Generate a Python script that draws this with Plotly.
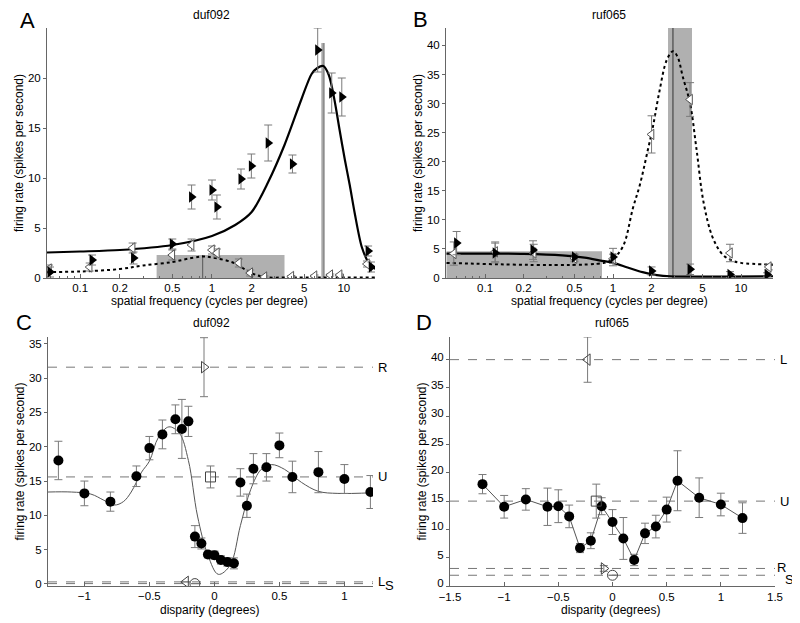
import plotly.graph_objects as go

# The page body keeps its default 8 px margin, so the figure is drawn 8 px
# in from the top-left; size it to fill the rest of the 800x623 window.
PAGE_W, PAGE_H, OFF = 800, 623, 8
W, H = PAGE_W - OFF, PAGE_H - OFF
FONT = "Liberation Sans, Arial, sans-serif"

# ---- panel A: duf092, spatial frequency tuning ----
A_SF_R = [0.059, 0.123, 0.254, 0.50, 0.70, 1.00, 1.09, 1.66, 1.99, 2.67, 4.08, 6.34, 8.1, 9.66, 15.3, 16.2]
A_RATE_R = [0.6, 1.8, 2.0, 3.4, 8.1, 8.8, 7.1, 9.9, 11.2, 13.5, 11.4, 22.8, 18.5, 18.1, 2.7, 1.1]
A_ERR_R = [0.5, 0.5, 0.6, 0.5, 1.2, 1.0, 1.2, 1.0, 1.2, 1.8, 0.9, 2.2, 2.0, 1.9, 0.5, 0.5]
A_SF_L = [0.058, 0.118, 0.25, 0.50, 0.70, 1.00, 1.09, 1.6, 1.95, 2.5, 4.0, 6.0, 7.9, 9.3, 15.0]
A_RATE_L = [0.9, 1.1, 3.0, 2.3, 3.3, 2.8, 2.5, 1.5, 0.5, 0.1, 0.15, 0.2, 0.3, 0.3, 1.4]
A_ERR_L = [0.4, 0.4, 0.5, 0.5, 0.6, 0.4, 0.4, 0.4, 0.3, 0.1, 0.1, 0.1, 0.1, 0.1, 0.3]
A_FIT_R_X = [0.056, 0.1, 0.2, 0.5, 1.0, 1.5, 2.0, 2.67, 3.55, 4.78, 5.7, 6.3, 7.0, 7.7, 8.5, 9.3, 10.2, 11.1, 12.1, 13.7, 15.5, 17.3]
A_FIT_R_Y = [2.55, 2.65, 2.8, 3.3, 4.2, 5.3, 6.6, 9.6, 13.3, 17.9, 20.4, 21.0, 21.2, 20.3, 17.8, 14.8, 11.8, 9.3, 6.5, 3.1, 1.5, 0.9]
A_FIT_L_X = [0.056, 0.1, 0.2, 0.3, 0.5, 0.7, 0.85, 1.0, 1.47, 1.98, 2.5, 4.0, 17.3]
A_FIT_L_Y = [0.6, 0.65, 0.9, 1.25, 1.6, 2.0, 2.15, 2.05, 1.5, 0.5, 0.1, 0.05, 0.05]
A_BAND = [0.38, 3.55, 2.3, 0.85]      # lo, hi, height, centre
A_PEAK = [6.75, 7.2, 23.5, 7.0]

# ---- panel B: ruf065, spatial frequency tuning ----
B_SF_R = [0.060, 0.12, 0.237, 0.5, 1.0, 2.0, 4.0, 8.2, 16.0]
B_RATE_R = [6.0, 4.3, 4.8, 3.6, 3.6, 1.2, 1.5, 0.6, 0.6]
B_ERR_R = [2.0, 1.7, 1.6, 0.5, 1.5, 0.7, 0.9, 0.5, 0.3]
B_SF_L = [0.057, 0.12, 0.24, 0.5, 1.0, 2.0, 4.0, 8.2, 16.5]
B_RATE_L = [4.2, 4.5, 4.3, 3.4, 3.3, 24.7, 30.7, 4.3, 1.9]
B_ERR_L = [2.0, 1.7, 1.5, 0.6, 0.8, 3.2, 2.9, 1.5, 0.5]
B_FIT_R_X = [0.05, 0.1, 0.2, 0.4, 0.6, 0.8, 1.0, 1.3, 1.7, 2.2, 2.8, 17.8]
B_FIT_R_Y = [4.2, 4.2, 4.15, 3.9, 3.5, 3.0, 2.6, 1.8, 1.0, 0.5, 0.3, 0.3]
B_FIT_L_X = [0.05, 0.85, 1.0, 1.2, 1.43, 1.62, 1.87, 2.05, 2.3, 2.63, 2.94, 3.2, 3.5, 4.0, 4.5, 5.1, 6.0, 7.2, 8.5, 10.0, 17.8]
B_FIT_L_Y = [2.6, 2.6, 3.3, 5.5, 12.0, 16.0, 22.0, 26.0, 32.0, 37.5, 39.0, 38.0, 34.7, 30.0, 22.0, 13.0, 7.0, 4.0, 3.0, 2.6, 2.3]
B_BAND = [0.05, 0.82, 4.6]
B_PEAK = [2.69, 4.14, 43.0, 2.94]

# ---- panel C: duf092, disparity tuning ----
C_DISP = [-1.2, -1.0, -0.8, -0.6, -0.5, -0.4, -0.3, -0.25, -0.2, -0.15, -0.1, -0.05, 0.0,
          0.05, 0.1, 0.15, 0.2, 0.25, 0.3, 0.4, 0.5, 0.6, 0.8, 1.0, 1.2]
C_RATE = [18.0, 13.2, 12.0, 15.7, 19.8, 21.8, 24.0, 22.6, 23.7, 6.9, 5.9, 4.3, 4.2,
          3.5, 3.2, 3.0, 14.8, 11.4, 16.8, 17.0, 20.2, 15.6, 16.3, 15.3, 13.4]
C_ERR = [2.8, 1.8, 1.4, 1.5, 1.7, 2.1, 2.1, 4.3, 2.2, 1.6, 0.8, 0.5, 0.6,
         0.6, 0.6, 0.8, 2.0, 1.7, 2.2, 2.0, 1.8, 2.3, 3.0, 2.1, 2.4]
C_FIT_X = [-1.28, -1.1, -0.95, -0.85, -0.77, -0.7, -0.64, -0.56, -0.5, -0.43, -0.35, -0.27, -0.2,
           -0.13, -0.05, 0.03, 0.12, 0.2, 0.28, 0.36, 0.44, 0.54, 0.67, 0.8, 0.95, 1.22]
C_FIT_Y = [13.4, 13.4, 13.1, 12.2, 11.5, 12.0, 13.4, 16.3, 17.9, 21.4, 22.9, 22.0, 18.0,
           9.9, 4.2, 1.4, 2.7, 8.5, 13.8, 16.7, 17.4, 16.7, 14.8, 13.5, 13.2, 13.3]
C_MONO = ["R", "U", "L", "S"]
C_MONO_X = [-0.08, -0.03, -0.22, -0.15]
C_MONO_Y = [31.6, 15.6, 0.3, 0.05]
C_MONO_ERR = [4.3, 1.6, 0.0, 0.0]

# ---- panel D: ruf065, disparity tuning ----
D_DISP = [-1.2, -1.0, -0.8, -0.6, -0.5, -0.4, -0.3, -0.2, -0.1, 0.0, 0.1, 0.2, 0.3, 0.4, 0.5, 0.6, 0.8, 1.0, 1.2]
D_RATE = [18.0, 14.0, 15.3, 14.0, 14.1, 12.3, 6.7, 8.0, 14.1, 11.3, 8.4, 4.6, 9.3, 10.5, 13.5, 18.6, 15.6, 14.4, 12.0]
D_ERR = [1.7, 2.0, 1.9, 3.3, 2.9, 2.0, 0.8, 1.4, 1.5, 2.2, 3.7, 1.0, 1.8, 2.0, 2.2, 5.3, 3.5, 2.0, 2.7]
D_MONO = ["L", "U", "R", "S"]
D_MONO_X = [-0.23, -0.15, -0.08, 0.0]
D_MONO_Y = [40.0, 15.0, 3.1, 1.9]
D_MONO_ERR = [4.0, 3.0, 0.5, 0.0]

SF_TICKS = [0.1, 0.2, 0.5, 1, 2, 5, 10]
SF_MINOR = [0.06, 0.07, 0.08, 0.09, 0.3, 0.4, 0.6, 0.7, 0.8, 0.9, 3, 4, 6, 7, 8, 9]
MONO_SYMBOL = {"R": "triangle-right-open", "L": "triangle-left-open",
               "U": "square-open", "S": "circle-open"}
# label nudges beside the dashed lines: (x past right edge as domain fraction, y px)
LABEL_NUDGE = {("x3", "S"): (0.03, -2), ("x4", "S"): (0.026, -4), ("x4", "R"): (0.0, 1)}

ERR_STYLE = dict(type="data", color="#7a7a7a", thickness=1, width=4)
GRAY = "#b0b0b0"
TICK_FONT = dict(size=11.5, color="black")


def err(arr):
    return dict(ERR_STYLE, array=arr)


def pxx(x):
    return (x - OFF) / W


def pxy(y):
    return 1 - (y - OFF) / H


def px(x0, x1, y0, y1):
    """Page pixel box -> paper domains."""
    return [pxx(x0), pxx(x1)], [pxy(y1), pxy(y0)]


fig = go.Figure()

# --- spatial frequency panels ---
for xa, ya, sf_r, rr, er, sf_l, rl, el, fx, fy, lx, ly in (
        ("x", "y", A_SF_R, A_RATE_R, A_ERR_R, A_SF_L, A_RATE_L, A_ERR_L,
         A_FIT_R_X, A_FIT_R_Y, A_FIT_L_X, A_FIT_L_Y),
        ("x2", "y2", B_SF_R, B_RATE_R, B_ERR_R, B_SF_L, B_RATE_L, B_ERR_L,
         B_FIT_R_X, B_FIT_R_Y, B_FIT_L_X, B_FIT_L_Y)):
    fig.add_trace(go.Scatter(x=lx, y=ly, mode="lines", xaxis=xa, yaxis=ya,
                             line=dict(color="black", width=2, dash="dot", shape="spline")))
    fig.add_trace(go.Scatter(x=fx, y=fy, mode="lines", xaxis=xa, yaxis=ya,
                             line=dict(color="black", width=2.2, shape="spline", smoothing=0.8)))
    fig.add_trace(go.Scatter(x=sf_l, y=rl, mode="markers", xaxis=xa, yaxis=ya,
                             error_y=err(el),
                             marker=dict(symbol="triangle-left", size=9, color="white",
                                         line=dict(color="#555", width=1))))
    fig.add_trace(go.Scatter(x=sf_r, y=rr, mode="markers", xaxis=xa, yaxis=ya,
                             error_y=err(er),
                             marker=dict(symbol="triangle-right", size=10, color="black",
                                         line=dict(color="black", width=0))))

# --- disparity panels ---
fig.add_trace(go.Scatter(x=C_FIT_X, y=C_FIT_Y, mode="lines", xaxis="x3", yaxis="y3",
                         line=dict(color="#555", width=1, shape="spline")))
fig.add_trace(go.Scatter(x=C_DISP, y=C_RATE, mode="markers", xaxis="x3", yaxis="y3",
                         error_y=err(C_ERR),
                         marker=dict(symbol="circle", size=10, color="black")))
fig.add_trace(go.Scatter(x=D_DISP, y=D_RATE, mode="lines+markers", xaxis="x4", yaxis="y4",
                         error_y=err(D_ERR),
                         line=dict(color="#555", width=1),
                         marker=dict(symbol="circle", size=10, color="black")))

shapes, annos = [], []
for xa, ya, names, mx, my, me in (("x3", "y3", C_MONO, C_MONO_X, C_MONO_Y, C_MONO_ERR),
                                  ("x4", "y4", D_MONO, D_MONO_X, D_MONO_Y, D_MONO_ERR)):
    for i, name in enumerate(names):
        shapes.append(dict(type="line", xref=xa + " domain", yref=ya, x0=0, x1=1,
                           y0=my[i], y1=my[i], line=dict(color="#777", width=1, dash="dash"),
                           layer="below"))
        fig.add_trace(go.Scatter(x=[mx[i]], y=[my[i]], mode="markers", xaxis=xa, yaxis=ya,
                                 error_y=err([me[i]]),
                                 marker=dict(symbol=MONO_SYMBOL[name], size=10, color="#444",
                                             line=dict(width=1))))
        shift, ysh = LABEL_NUDGE.get((xa, name), (0.008, 0))
        annos.append(dict(text=name, xref=xa + " domain", yref=ya, x=1 + shift, y=my[i],
                          xanchor="left", yanchor="middle", showarrow=False, yshift=ysh,
                          font=dict(size=13, color="black")))

# gray preferred-frequency bands
for xa, ya, lo, hi, top in (("x", "y", A_BAND[0], A_BAND[1], A_BAND[2]),
                            ("x", "y", A_PEAK[0], A_PEAK[1], A_PEAK[2]),
                            ("x2", "y2", B_BAND[0], B_BAND[1], B_BAND[2]),
                            ("x2", "y2", B_PEAK[0], B_PEAK[1], B_PEAK[2])):
    shapes.append(dict(type="rect", xref=xa, yref=ya, x0=lo, x1=hi, y0=0, y1=top,
                       fillcolor=GRAY, line=dict(width=0), layer="below"))
shapes.append(dict(type="line", xref="x", yref="y", x0=A_BAND[3], x1=A_BAND[3], y0=0,
                   y1=A_BAND[2], line=dict(color="#555", width=1), layer="below"))
shapes.append(dict(type="line", xref="x", yref="y", x0=A_PEAK[3], x1=A_PEAK[3], y0=0,
                   y1=A_PEAK[2], line=dict(color="#888", width=1), layer="below"))
shapes.append(dict(type="line", xref="x2", yref="y2", x0=B_PEAK[3], x1=B_PEAK[3], y0=0,
                   y1=B_PEAK[2], line=dict(color="#333", width=1), layer="below"))

# panel letters, cell names and x-axis titles (positions in page pixels)
for letter, cx, cy in (("A", 27, 20), ("B", 420, 19), ("C", 24, 322), ("D", 424, 322)):
    annos.append(dict(text=letter, xref="paper", yref="paper", x=pxx(cx), y=pxy(cy),
                      xanchor="center", yanchor="middle", showarrow=False,
                      font=dict(size=22, color="black")))
for name, cx, cy in (("duf092", 211, 15), ("ruf065", 609, 15), ("duf092", 211, 323), ("ruf065", 612, 323),
                     ("spatial frequency (cycles per degree)", 209, 301),
                     ("spatial frequency (cycles per degree)", 609, 301),
                     ("disparity (degrees)", 210, 610), ("disparity (degrees)", 610, 610)):
    annos.append(dict(text=name, xref="paper", yref="paper", x=pxx(cx), y=pxy(cy),
                      xanchor="center", yanchor="middle", showarrow=False,
                      font=dict(size=12, color="black")))

axis_common = dict(showline=True, linecolor="#666", linewidth=1, showgrid=False,
                   zeroline=False, ticks="outside", ticklen=3, tickcolor="#666",
                   tickfont=TICK_FONT, mirror=False, automargin=False)
xaxis_common = dict(axis_common, ticks="inside", ticklen=4, ticklabelstandoff=-1)
ytitle = dict(text="firing rate (spikes per second)", font=dict(size=12, color="black"), standoff=1)

dxA, dyA = px(47, 375, 28, 278)
dxB, dyB = px(446, 773, 28, 278)
dxC, dyC = px(48, 373, 337, 586)
dxD, dyD = px(450, 775, 337, 586)

sf_minor = dict(ticks="inside", ticklen=2, tickcolor="#666", tickvals=SF_MINOR)
Y_TICKS_40 = [0, 5, 10, 15, 20, 25, 30, 35, 40]

fig.update_layout(
    width=W, height=H, margin=dict(l=0, r=0, t=0, b=0),
    paper_bgcolor="white", plot_bgcolor="white", showlegend=False,
    font=dict(family=FONT, size=12, color="black"),
    shapes=shapes, annotations=annos,
    xaxis=dict(xaxis_common, type="log", domain=dxA, anchor="y", range=[-1.252, 1.237],
               tickvals=SF_TICKS, ticktext=[str(t) for t in SF_TICKS], minor=sf_minor),
    yaxis=dict(axis_common, domain=dyA, anchor="x", range=[0, 25], tickvals=[0, 5, 10, 15, 20],
               title=ytitle),
    xaxis2=dict(xaxis_common, type="log", domain=dxB, anchor="y2", range=[-1.305, 1.25],
                tickvals=SF_TICKS, ticktext=[str(t) for t in SF_TICKS], minor=sf_minor),
    yaxis2=dict(axis_common, domain=dyB, anchor="x2", range=[0, 43],
                tickvals=Y_TICKS_40, title=ytitle),
    xaxis3=dict(xaxis_common, domain=dxC, anchor="y3", range=[-1.28, 1.22],
                tickvals=[-1, -0.5, 0, 0.5, 1]),
    yaxis3=dict(axis_common, domain=dyC, anchor="x3", range=[-0.3, 36],
                tickvals=[0, 5, 10, 15, 20, 25, 30, 35], title=ytitle),
    xaxis4=dict(xaxis_common, domain=dxD, anchor="y4", range=[-1.5, 1.5],
                tickvals=[-1.5, -1, -0.5, 0, 0.5, 1, 1.5], ticklabelstandoff=0),
    yaxis4=dict(axis_common, domain=dyD, anchor="x4", range=[0, 44],
                tickvals=Y_TICKS_40, title=ytitle, ticklabelshift=-3),
)

fig.write_html("out.html")
